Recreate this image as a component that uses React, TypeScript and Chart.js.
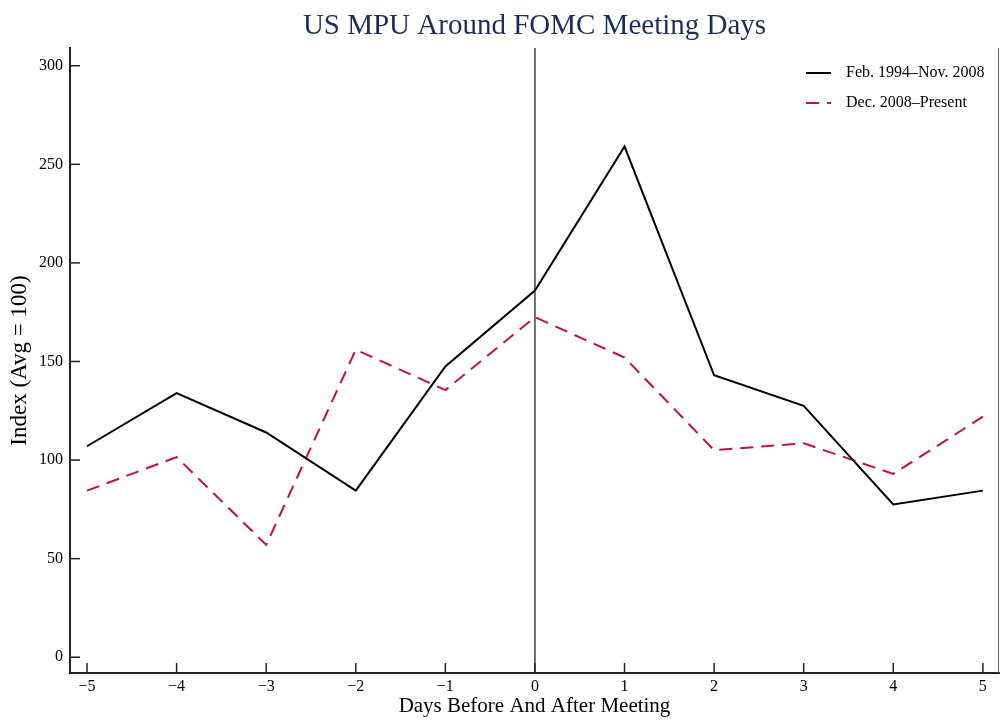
import React, { useEffect, useRef } from "react";
import { Chart, registerables } from "chart.js";

Chart.register(...registerables);

const days = [-5, -4, -3, -2, -1, 0, 1, 2, 3, 4, 5];
const preCrisis = [107, 134, 114, 84.5, 147.5, 186, 259, 143, 127.5, 77.5, 84.5];
const postCrisis = [84.5, 101.5, 57, 156, 135.5, 172.5, 152, 105, 108.5, 93, 122];
const yTicks = [0, 50, 100, 150, 200, 250, 300];
const seriesLabels = ["Feb. 1994\u2013Nov. 2008", "Dec. 2008\u2013Present"];
const titleText = "US MPU Around FOMC Meeting Days";
const xTitle = "Days Before And After Meeting";
const yTitle = "Index (Avg = 100)";

const SERIF = "'Liberation Serif', 'Times New Roman', serif";
const RED = "#c70f3c";

const decorPlugin = {
  id: "decor",
  afterDraw(chart: any) {
    const { ctx, chartArea, scales } = chart;
    const { left, right, top, bottom } = chartArea;
    ctx.save();
    // right border
    ctx.strokeStyle = "#666";
    ctx.lineWidth = 1;
    ctx.beginPath();
    ctx.moveTo(right - 0.5, top);
    ctx.lineTo(right - 0.5, bottom);
    ctx.stroke();
    // zero line
    const x0 = scales.x.getPixelForValue(0);
    ctx.strokeStyle = "#222";
    ctx.lineWidth = 1.3;
    ctx.beginPath();
    ctx.moveTo(x0, top);
    ctx.lineTo(x0, bottom);
    ctx.stroke();
    // inward ticks
    ctx.strokeStyle = "#222";
    ctx.lineWidth = 1.5;
    scales.y.ticks.forEach((t: any) => {
      const y = scales.y.getPixelForValue(t.value);
      ctx.beginPath();
      ctx.moveTo(left, y);
      ctx.lineTo(left + 10, y);
      ctx.stroke();
    });
    scales.x.ticks.forEach((t: any) => {
      const x = scales.x.getPixelForValue(t.value);
      ctx.beginPath();
      ctx.moveTo(x, bottom);
      ctx.lineTo(x, bottom - 10);
      ctx.stroke();
    });
    // title
    ctx.fillStyle = "#1f2d5c";
    ctx.font = `29px ${SERIF}`;
    ctx.textAlign = "center";
    ctx.textBaseline = "middle";
    ctx.fillText(titleText, (left + right) / 2, 26);
    // legend
    const ds = chart.data.datasets;
    ds.forEach((d: any, i: number) => {
      const y = 73 + i * 30;
      ctx.strokeStyle = d.borderColor;
      ctx.lineWidth = 2;
      ctx.setLineDash(d.borderDash || []);
      ctx.beginPath();
      ctx.moveTo(806, y);
      ctx.lineTo(831, y);
      ctx.stroke();
      ctx.setLineDash([]);
      ctx.fillStyle = "#000";
      ctx.font = `16px ${SERIF}`;
      ctx.textAlign = "left";
      ctx.textBaseline = "middle";
      ctx.fillText(d.label, 846, y);
    });
    ctx.restore();
  },
};

export default function App() {
  const ref = useRef<HTMLCanvasElement>(null);
  useEffect(() => {
    if (!ref.current) return;
    const chart = new Chart(ref.current, {
      type: "line",
      data: {
        datasets: [
          {
            label: seriesLabels[0],
            data: days.map((d, i) => ({ x: d, y: preCrisis[i] })),
            borderColor: "#000",
            borderWidth: 2,
            pointRadius: 0,
            tension: 0,
            fill: false,
          },
          {
            label: seriesLabels[1],
            data: days.map((d, i) => ({ x: d, y: postCrisis[i] })),
            borderColor: RED,
            borderWidth: 2,
            borderDash: [13, 8],
            pointRadius: 0,
            tension: 0,
            fill: false,
          },
        ],
      },
      options: {
        animation: false,
        responsive: false,
        layout: { padding: { top: 48, right: 1, left: 0, bottom: 0 } },
        plugins: {
          legend: { display: false },
          title: { display: false },
          tooltip: { enabled: false },
        },
        scales: {
          x: {
            type: "linear",
            min: -5.19,
            max: 5.18,
            afterFit: (s: any) => {
              s.height = 48;
            },
            afterBuildTicks: (s: any) => {
              s.ticks = days.map((v) => ({ value: v }));
            },
            grid: { display: false, drawTicks: false },
            border: { display: true, color: "#222", width: 2 },
            ticks: {
              padding: 4,
              color: "#000",
              font: { family: SERIF, size: 16 },
              maxRotation: 0,
              autoSkip: false,
              callback: (v: any) => String(v).replace("-", "\u2212"),
            },
            title: {
              display: true,
              text: xTitle,
              color: "#000",
              font: { family: SERIF, size: 21 },
              padding: { top: 0, bottom: 2 },
            },
          },
          y: {
            type: "linear",
            min: -8,
            max: 309,
            afterFit: (s: any) => {
              s.width = 70;
            },
            afterBuildTicks: (s: any) => {
              s.ticks = yTicks.map((v) => ({ value: v }));
            },
            grid: { display: false, drawTicks: false },
            border: { display: true, color: "#222", width: 2 },
            ticks: {
              padding: 7,
              color: "#000",
              font: { family: SERIF, size: 16 },
              autoSkip: false,
            },
            title: {
              display: true,
              text: yTitle,
              color: "#000",
              font: { family: SERIF, size: 23 },
              padding: { top: 6, bottom: 0 },
            },
          },
        },
      },
      plugins: [decorPlugin],
    } as any);
    return () => chart.destroy();
  }, []);
  return (
    <div style={{ position: "absolute", left: 0, top: 0, width: 1000, height: 721, background: "#fff" }}>
      <canvas ref={ref} width={1000} height={721} style={{ display: "block" }} />
    </div>
  );
}
